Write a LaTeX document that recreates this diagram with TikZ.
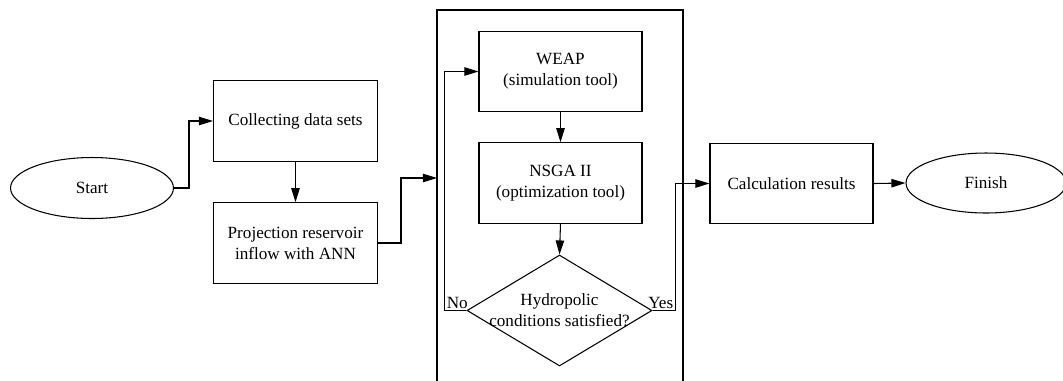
\documentclass[tikz,border=0pt]{standalone}
\usepackage{fontspec}
\setmainfont{Liberation Serif}
\usetikzlibrary{shapes.geometric,arrows.meta}

\tikzset{
	box/.style={draw,line width=0.6pt,minimum width=3.28cm,minimum height=1.61cm,align=center,inner sep=1pt},
	term/.style={draw,line width=0.6pt,ellipse,minimum width=3.26cm,minimum height=1.22cm,inner sep=1pt},
	test/.style={draw,line width=0.6pt,diamond,minimum width=3.7cm,minimum height=2.22cm,inner sep=0pt},
	arr/.style={line width=0.6pt,-{Triangle[length=8pt,width=4.8pt]}}
}

\begin{document}
\begin{tikzpicture}[x=0.02cm,y=-0.02cm,font=\fontsize{9.75}{12}\selectfont]
		\useasboundingbox (0,0) rectangle (1063,380);
		% left part
		\node[term] (start) at (92,188) {Start};
		\node[box] (collect) at (295.5,121) {Collecting data sets};
		\node[box] (proj) at (295.5,243) {Projection reservoir\\inflow with ANN};
		% frame round the tools
		\draw[line width=1.2pt] (437,390) -- (437,10) -- (683,10) -- (683,390);
		\coordinate (framein) at (437,178);
		\node[box,minimum width=3.26cm] (weap) at (560.5,71.5) {WEAP\\(simulation tool)};
		\node[box,minimum width=3.26cm] (nsga) at (560.5,183) {NSGA II\\(optimization tool)};
		\node[test] (cond) at (559.5,310.5) {};
		\node[align=center,inner sep=0pt] (condtext) at (cond.center) {Hydropolic\\conditions satisfied?};
		% right part
		\node[box,minimum width=3.26cm] (calc) at (791.5,183.5) {Calculation results};
		\node[term,minimum width=3.2cm,minimum height=1.2cm] (finish) at (986,183) {Finish};
		% connectors
		\draw[arr] (start.east) -- ++(15,0) |- (collect.west);
		\draw[arr] (collect.south) -- (proj.north);
		\draw[arr] (proj.east) -- ++(23,0) |- (framein);
		\draw[arr] (weap.south) -- (nsga.north);
		\draw[arr] (nsga.south) -- (cond.north);
		\draw[arr] (cond.west) -- ++(-22,0) node[above right,inner sep=1pt] {No} |- (weap.west);
		\draw[arr] (cond.east) -- ++(23,0) node[above left,inner sep=1pt] {Yes} |- (calc.west);
		\draw[arr] (calc.east) -- (finish.west);
\end{tikzpicture}
\end{document}
